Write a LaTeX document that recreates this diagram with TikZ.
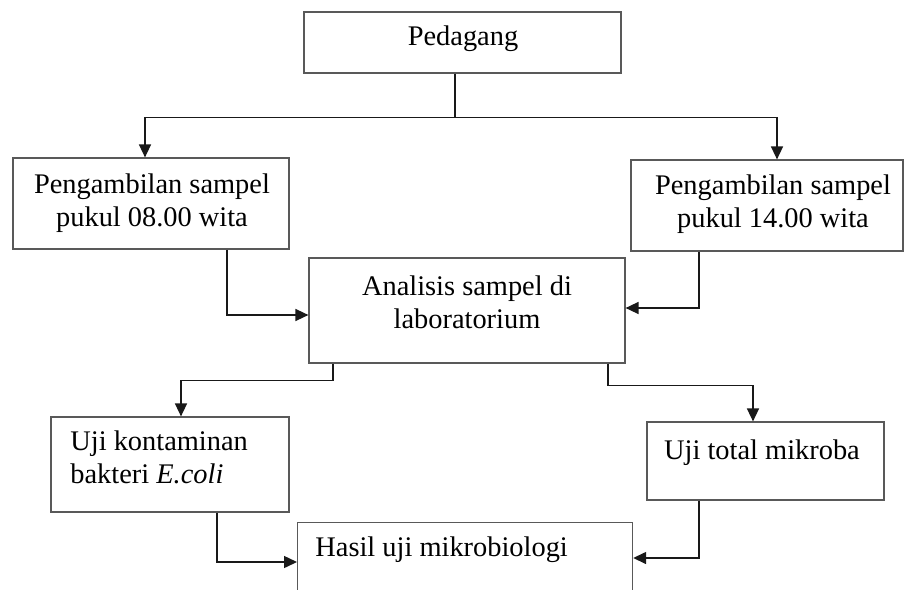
\documentclass[tikz,border=0pt]{standalone}
\usepackage{fontspec}
\setmainfont{Liberation Serif}
\usetikzlibrary{arrows.meta}

\begin{document}
\begin{tikzpicture}[x=0.5pt,y=-0.5pt,
  kotak/.style={draw=black!65,line width=0.6pt,inner sep=0pt},
  teks/.style={inner sep=0pt,align=center,font=\fontsize{14.2}{16.5}\selectfont},
  panah/.style={-{Triangle[length=6.5pt,width=6pt]},line width=0.75pt,black!90}]
\useasboundingbox (0,0) rectangle (904,589);
\clip (0,0) rectangle (904,589);
%\draw[help lines,yellow,thin] (0,0) grid (904,589);
\node  [kotak,minimum width=158.5pt,minimum height=30.5pt] (pedagang) at (462.5,42.5){};
\node  [kotak,minimum width=138pt,minimum height=45.5pt] (samp1) at (151,203.5){};
\node  [kotak,minimum width=136pt,minimum height=45.5pt] (samp2) at (767,205.5){};
\node  [kotak,minimum width=158pt,minimum height=52.5pt] (lab) at (467,310.5){};
\node  [kotak,minimum width=119pt,minimum height=47.5pt] (ecoli) at (170,464.5){};
\node  [kotak,minimum width=118.5pt,minimum height=39pt] (mikroba) at (765.5,461){};
\node  [kotak,minimum width=167.5pt,minimum height=50pt,anchor=north west] (hasil) at (297,522){};
% teks
\node  [teks] (tpedagang) at (463,39){Pedagang};
\node  [teks] (tsamp1) at (152,203){Pengambilan sampel\\pukul 08.00 wita};
\node  [teks] (tsamp2) at (773,204){Pengambilan sampel\\pukul 14.00 wita};
\node  [teks] (tlab) at (467,302){Analisis sampel di\\laboratorium};
\node  [teks,align=left,anchor=west] (tecoli) at (70,457){Uji kontaminan\\bakteri \textit{E.coli}};
\node  [teks] (tmikroba) at (762,453){Uji total mikroba};
\node  [teks,anchor=west] (thasil) at (315,550){Hasil uji mikrobiologi};
% panah
\draw [panah] ([xshift=-3.75pt]pedagang.south) -- ++(0,44) -| ([xshift=-3pt]samp1.north);
\draw [panah] ([xshift=-3.75pt]pedagang.south) -- ++(0,44) -| ([xshift=5pt]samp2.north);
\draw [panah] ([xshift=38pt]samp1.south) |- ([yshift=-2.25pt]lab.west);
\draw [panah] ([xshift=-34pt]samp2.south) |- ([yshift=1.25pt]lab.east);
\draw [panah] ([xshift=-67pt]lab.south) -- ++(0,17) -| ([xshift=5.5pt]ecoli.north);
\draw [panah] ([xshift=70.5pt]lab.south) -- ++(0,22) -| ([xshift=-6.25pt]mikroba.north);
\draw [panah] ([xshift=23.5pt]ecoli.south) |- ([yshift=-20pt]hasil.north west);
\draw [panah] ([xshift=-33.25pt]mikroba.south) |- ([yshift=-18pt]hasil.north east);
\end{tikzpicture}
\end{document}
